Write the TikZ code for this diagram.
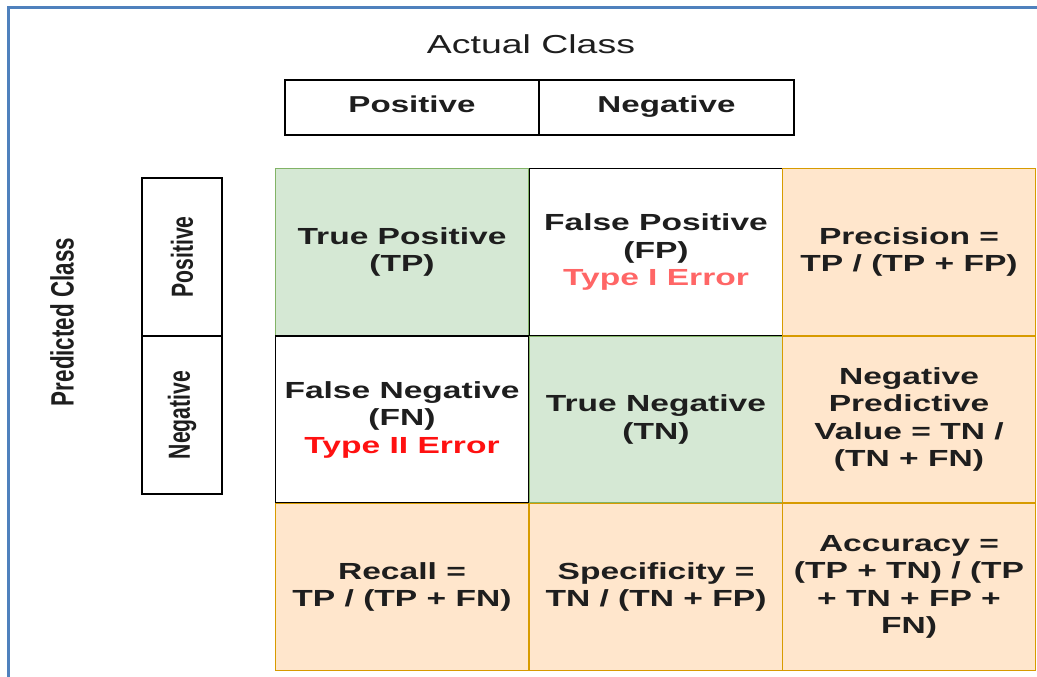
\documentclass[tikz,border=0pt]{standalone}
\usepackage{fontspec}
\setmainfont{Liberation Sans}[FakeStretch=1.44]
\newfontfamily\rotfont{Liberation Sans}[FakeStretch=0.6944]
\definecolor{gfill}{HTML}{D5E8D4}
\definecolor{gline}{HTML}{82B366}
\definecolor{ofill}{HTML}{FFE6CC}
\definecolor{oline}{HTML}{D79B00}
\definecolor{frameblue}{HTML}{4F81BD}
\definecolor{txt}{HTML}{1E1E1E}
\definecolor{redA}{HTML}{FF6666}
\definecolor{redB}{HTML}{FF1111}
\begin{document}
\begin{tikzpicture}[x=1pt,y=-1pt,
  cell/.style={rectangle, minimum width=253pt, minimum height=167pt, inner sep=0pt, outer sep=0pt,
    line width=1.9pt, align=center, text=txt, font=\bfseries\fontsize{23.3}{27.5}\selectfont},
  goodcell/.style={cell, fill=gfill, draw=gline},
  badcell/.style={cell, fill=white, draw=black},
  metric/.style={cell, fill=ofill, draw=oline},
  headbox/.style={rectangle, draw=black, line width=2pt, inner sep=0pt, outer sep=0pt,
    text height=16pt, text depth=5pt,
    font=\bfseries\fontsize{23}{27}\selectfont, text=txt},
  sidebox/.style={rectangle, draw=black, line width=2pt, inner sep=0pt, outer sep=0pt,
    minimum width=80pt, minimum height=158pt, text=txt},
  sidetext/.style={font=\rotfont\bfseries\fontsize{30.5}{34}\selectfont}
]
\useasboundingbox (0,0) rectangle (1037,677);
\fill[white] (0,0) rectangle (1037,677);
% outer frame
\coordinate (ftl) at (8.5,7.5);
\coordinate (ftr) at (1037,7.5);
\coordinate (fbl) at (8.5,677);
\draw[frameblue, line width=2.8pt] (fbl) -- (ftl) -- (ftr);

% titles
\node[text=txt, font=\fontsize{26}{30}\selectfont] (ac) at (531,44) {Actual Class};
\node[rotate=90, text=txt, font=\rotfont\bfseries\fontsize{32.3}{36}\selectfont] (pc) at (62,322) {Predicted Class};

% column headers
\node[headbox, minimum width=254pt, minimum height=55pt] (hp) at (412,107.5) {Positive};
\node[headbox, minimum width=255pt, minimum height=55pt] (hn) at (666.5,107.5) {Negative};

% row headers
\node[sidebox] (rp) at (182,257) {};
\node[sidebox] (rn) at (182,415) {};
\node[rotate=90, text=txt, sidetext] (rpt) at (rp.center) {Positive};
\node[rotate=90, text=txt, sidetext] (rnt) at (rn.center) {Negative};

% matrix cells
\node[goodcell] (tp) at (402,252) {True Positive\\(TP)};
\node[goodcell] (tn) at (656,419.5) {True Negative\\(TN)};
\node[badcell] (fp) at (656,252) {False Positive\\(FP)\\\textcolor{redA}{Type I Error}};
\node[badcell] (fn) at (402,419.5) {False Negative\\(FN)\\\textcolor{redB}{Type II Error}};
\node[metric] (prec) at (909,252) {Precision =\\TP / (TP + FP)};
\node[metric] (npv) at (909,419.5) {Negative\\Predictive\\Value = TN /\\(TN + FN)};
\node[metric] (rec) at (402,587) {Recall =\\TP / (TP + FN)};
\node[metric] (spec) at (656,587) {Specificity =\\TN / (TN + FP)};
\node[metric] (acc) at (909,587) {Accuracy =\\(TP + TN) / (TP\\+ TN + FP +\\FN)};
\end{tikzpicture}
\end{document}
